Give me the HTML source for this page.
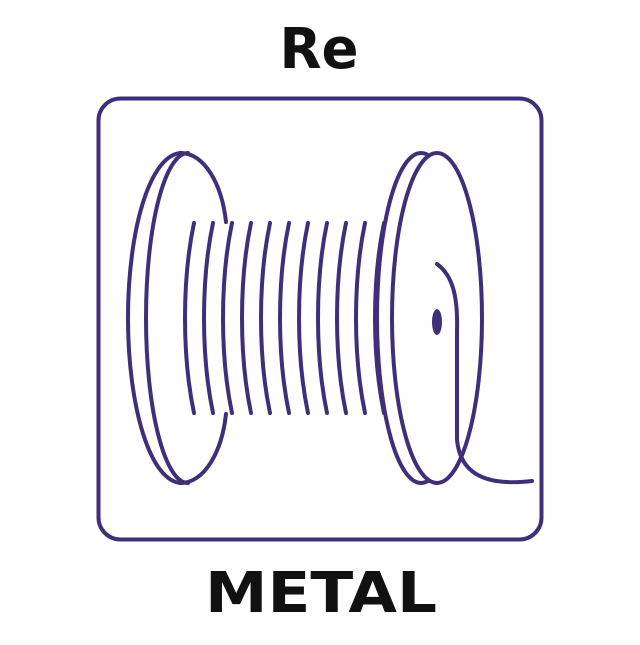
<!DOCTYPE html>
<html><head><style>html,body{margin:0;padding:0;background:#fff}</style></head>
<body>
<svg width="640" height="640" viewBox="0 0 640 640" xmlns="http://www.w3.org/2000/svg">
<text x="319" y="68" text-anchor="middle" font-family="DejaVu Sans, Liberation Sans, sans-serif" font-weight="bold" font-size="56" fill="#111" textLength="79" lengthAdjust="spacingAndGlyphs">Re</text>
<text x="321" y="612" text-anchor="middle" font-family="DejaVu Sans, Liberation Sans, sans-serif" font-weight="bold" font-size="56" fill="#111" textLength="232" lengthAdjust="spacingAndGlyphs">METAL</text>
<rect x="98.5" y="98.5" width="443" height="441" rx="22" fill="none" stroke="#3f2f7a" stroke-width="4"/>
<g fill="none" stroke="#3f2f7a" stroke-width="4" stroke-linecap="round">
<!-- left flange -->
<path d="M182 153 C150 153 128 230 128 318 C128 406 150 483 182 483"/>
<path d="M188 153 C165 153 146 225 146 318 C146 411 165 483 188 483"/>
<path d="M180 153 C205 153 222 185 226 222"/>
<path d="M180 483 C205 483 222 451 226 414"/>
<!-- windings -->
<path d="M194 223 C182 280 182 356 194 413"/>
<path d="M213 223 C201 280 201 356 213 413"/>
<path d="M232 223 C220 280 220 356 232 413"/>
<path d="M251 223 C239 280 239 356 251 413"/>
<path d="M270 223 C258 280 258 356 270 413"/>
<path d="M289 223 C277 280 277 356 289 413"/>
<path d="M308 223 C296 280 296 356 308 413"/>
<path d="M327 223 C315 280 315 356 327 413"/>
<path d="M346 223 C334 280 334 356 346 413"/>
<path d="M365 223 C353 280 353 356 365 413"/>
<path d="M384 223 C372 280 372 356 384 413"/>
<!-- right flange -->
<ellipse cx="421" cy="318" rx="44" ry="165"/>
<ellipse cx="437" cy="318" rx="45" ry="165" fill="#fff"/>
<!-- wire -->
<path d="M437 264 C452 275 458 295 457 330 L457 440 C460 470 480 487 532 481"/>
</g>
<ellipse cx="437" cy="322" rx="5" ry="13" fill="#3f2f7a"/>
</svg>
</body></html>
